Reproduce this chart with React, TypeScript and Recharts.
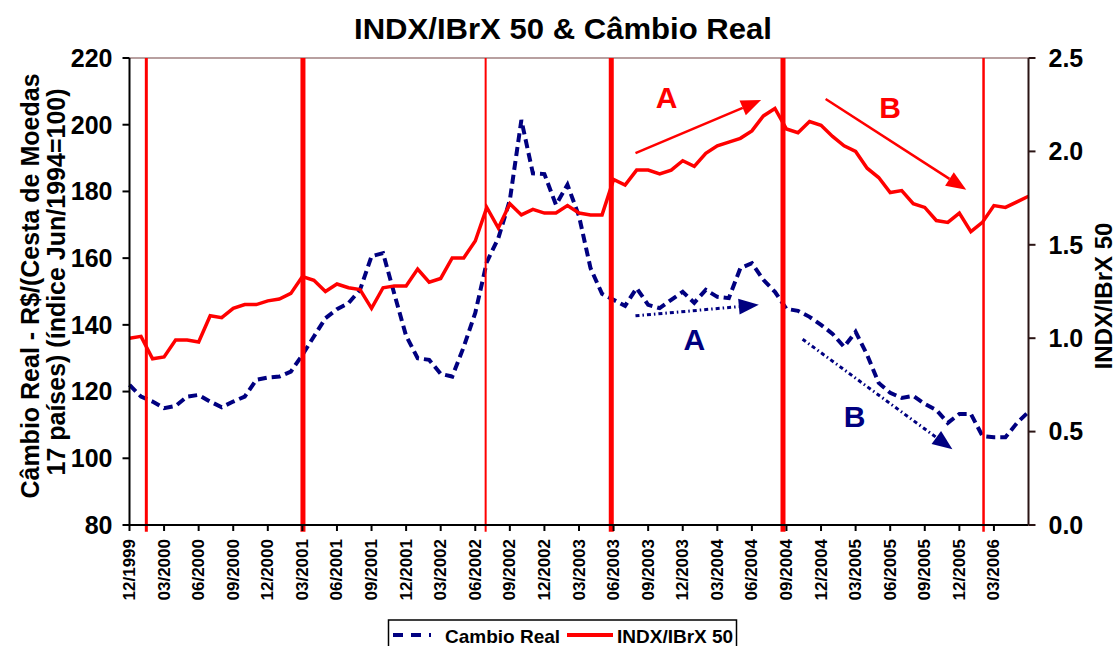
import { LineChart, Line, XAxis, YAxis, ReferenceLine, ReferenceDot } from "recharts";

// months since 12/1999, one label every quarter
const tickLabels = [
  "12/1999", "03/2000", "06/2000", "09/2000", "12/2000", "03/2001", "06/2001",
  "09/2001", "12/2001", "03/2002", "06/2002", "09/2002", "12/2002", "03/2003",
  "06/2003", "09/2003", "12/2003", "03/2004", "06/2004", "09/2004", "12/2004",
  "03/2005", "06/2005", "09/2005", "12/2005", "03/2006",
];

// Câmbio Real (left axis, índice Jun/1994=100), monthly from 12/1999
const cambioReal = [
  122.0, 118.5, 117.0, 115.0, 115.7, 118.5, 119.0, 117.0, 115.3, 117.0,
  118.5, 123.5, 124.2, 124.5, 126.0, 131.0, 136.5, 142.0, 144.7, 146.5,
  150.5, 160.6, 161.5, 149.0, 136.7, 130.0, 129.5, 125.3, 124.5, 133.4,
  143.6, 158.8, 166.0, 177.4, 201.4, 185.4, 185.2, 176.0, 182.0, 172.6,
  157.0, 149.3, 147.5, 145.7, 151.0, 146.0, 145.0, 147.5, 149.9, 146.6,
  150.5, 148.4, 148.0, 157.0, 158.5, 153.5, 149.9, 144.8, 144.2, 142.4,
  140.0, 137.3, 133.4, 137.9, 131.0, 122.6, 119.6, 118.1, 118.7, 116.3,
  114.5, 110.6, 113.3, 113.3, 106.7, 106.3, 106.3, 110.6, 113.9,
];

// INDX/IBrX 50 (right axis)
const indxIbrx50 = [
  1.0, 1.01, 0.89, 0.9, 0.99, 0.99, 0.98, 1.12, 1.11, 1.16,
  1.18, 1.18, 1.2, 1.21, 1.24, 1.33, 1.31, 1.25, 1.29, 1.27,
  1.26, 1.16, 1.27, 1.28, 1.28, 1.37, 1.3, 1.32, 1.43, 1.43,
  1.52, 1.7, 1.59, 1.72, 1.66, 1.69, 1.67, 1.67, 1.71, 1.67,
  1.66, 1.66, 1.85, 1.82, 1.9, 1.9, 1.88, 1.9, 1.95, 1.92,
  1.99, 2.03, 2.05, 2.07, 2.11, 2.19, 2.23, 2.12, 2.1, 2.16,
  2.14, 2.08, 2.03, 2.0, 1.91, 1.86, 1.78, 1.79, 1.72, 1.7,
  1.63, 1.62, 1.67, 1.57, 1.62, 1.71, 1.7, 1.73, 1.76,
];

// vertical event markers (months since 12/1999)
const eventMonths = [1.46, 15.05, 30.9, 41.8, 56.7, 74.1];
const eventWidths = [3, 5, 2, 5, 5, 2.5];

// trend arrows, in (month, left-axis value)
const redArrowA = [{ x: 43.9, y: 191.5 }, { x: 54.8, y: 207.4 }];
const redArrowB = [{ x: 60.4, y: 207.7 }, { x: 72.6, y: 180.5 }];
const blueArrowA = [{ x: 43.9, y: 142.7 }, { x: 54.6, y: 146.0 }];
const blueArrowB = [{ x: 58.4, y: 135.7 }, { x: 71.4, y: 102.7 }];
const redLabels = [{ text: "A", x: 46.6, y: 208.3 }, { text: "B", x: 66.0, y: 205.3 }];
const blueLabels = [{ text: "A", x: 49.0, y: 135.5 }, { text: "B", x: 62.9, y: 112.4 }];

const data = cambioReal.map((v, i) => ({ m: i, cambio: v, indx: indxIbrx50[i] }));

const FONT = "'Liberation Sans', Arial, sans-serif";
const RED = "#ff0000";
const NAVY = "#000080";

const arrowShape = (color: string, width: number, dash?: string) => (p: any) => {
  const { x1, y1, x2, y2 } = p;
  const a = Math.atan2(y2 - y1, x2 - x1);
  const len = 20;
  const half = 8;
  const bx = x2 - len * Math.cos(a);
  const by = y2 - len * Math.sin(a);
  const nx = -Math.sin(a) * half;
  const ny = Math.cos(a) * half;
  return (
    <g>
      <line x1={x1} y1={y1} x2={bx} y2={by} stroke={color} strokeWidth={width} strokeDasharray={dash} />
      <polygon points={`${x2},${y2} ${bx + nx},${by + ny} ${bx - nx},${by - ny}`} fill={color} />
    </g>
  );
};

const letterShape = (text: string, color: string) => (p: any) => (
  <text x={p.cx} y={p.cy} textAnchor="middle" dominantBaseline="central"
    fontFamily={FONT} fontWeight="bold" fontSize={30} fill={color}>{text}</text>
);

const XTick = (props: any) => {
  const { x, payload } = props;
  const y = 539;
  return (
    <text x={x} y={y} transform={`rotate(-90 ${x} ${y})`} textAnchor="end" dominantBaseline="central"
      fontFamily={FONT} fontWeight="bold" fontSize={17} fill="#000">
      {tickLabels[Math.round(payload.value / 3)]}
    </text>
  );
};

export default function App() {
  return (
    <div style={{ position: "absolute", left: 0, top: 0, width: 1117, height: 646, background: "#fff", overflow: "hidden" }}>
      <LineChart width={1117} height={646} data={data} margin={{ top: 58, right: 28.5, bottom: 0, left: 69.5 }}>
        <XAxis dataKey="m" type="number" domain={[0, 78]} ticks={tickLabels.map((_, i) => i * 3)}
          height={121} tick={<XTick />} tickSize={6} stroke="#000" strokeWidth={2} interval={0} />
        <YAxis yAxisId="left" domain={[80, 220]} ticks={[80, 100, 120, 140, 160, 180, 200, 220]}
          width={60} tickSize={7} tickMargin={10} stroke="#000" strokeWidth={2}
          tick={{ fontFamily: FONT, fontWeight: "bold", fontSize: 25, fill: "#000" }} />
        <YAxis yAxisId="right" orientation="right" domain={[0, 2.5]} ticks={[0, 0.5, 1, 1.5, 2, 2.5]}
          width={60} tickSize={7} tickMargin={13} stroke="#2a1414" strokeWidth={2}
          tickFormatter={(v: number) => v.toFixed(1)}
          tick={{ fontFamily: FONT, fontWeight: "bold", fontSize: 25, fill: "#000" }} />
        <ReferenceLine yAxisId="left" y={220} stroke="#a08080" strokeWidth={1.5} />
        <Line yAxisId="left" dataKey="cambio" stroke={NAVY} strokeWidth={4} strokeDasharray="9 5"
          dot={false} isAnimationActive={false} />
        <Line yAxisId="right" dataKey="indx" stroke={RED} strokeWidth={3.5}
          dot={false} isAnimationActive={false} />
        {eventMonths.map((m, i) => (
          <ReferenceLine key={`ev-${i}`} yAxisId="left" ifOverflow="visible"
            segment={[{ x: m, y: 220 }, { x: m, y: 78 }]} stroke={RED} strokeWidth={eventWidths[i]} />
        ))}
        <ReferenceLine yAxisId="left" segment={redArrowA} shape={arrowShape(RED, 2.5)} />
        <ReferenceLine yAxisId="left" segment={redArrowB} shape={arrowShape(RED, 2.5)} />
        <ReferenceLine yAxisId="left" segment={blueArrowA} shape={arrowShape(NAVY, 3, "4 3 1.5 3")} />
        <ReferenceLine yAxisId="left" segment={blueArrowB} shape={arrowShape(NAVY, 3, "4 3 1.5 3")} />
        {redLabels.map((l) => (
          <ReferenceDot key={`r-${l.text}`} yAxisId="left" x={l.x} y={l.y} r={0} shape={letterShape(l.text, RED)} />
        ))}
        {blueLabels.map((l) => (
          <ReferenceDot key={`b-${l.text}`} yAxisId="left" x={l.x} y={l.y} r={0} shape={letterShape(l.text, NAVY)} />
        ))}
      </LineChart>
      <svg width={1117} height={646} style={{ position: "absolute", left: 0, top: 0, pointerEvents: "none" }}
        fontFamily={FONT} fontWeight="bold">
        <text x={563} y={28} textAnchor="middle" dominantBaseline="central" fontSize={30}
          textLength={418} lengthAdjust="spacingAndGlyphs">
          INDX/IBrX 50 &amp; Câmbio Real
        </text>
        <text transform="translate(30,286) rotate(-90)" textAnchor="middle" dominantBaseline="central" fontSize={25}>
          Câmbio Real - R$/(Cesta de Moedas
        </text>
        <text transform="translate(56,282) rotate(-90)" textAnchor="middle" dominantBaseline="central" fontSize={25}>
          17 países) (índice Jun/1994=100)
        </text>
        <text transform="translate(1103,296) rotate(-90)" textAnchor="middle" dominantBaseline="central" fontSize={24}>
          INDX/IBrX 50
        </text>
        <rect x={388.5} y={620} width={348} height={40} fill="#fff" stroke="#000" strokeWidth={1.5} />
        <line x1={393} y1={635} x2={431} y2={635} stroke={NAVY} strokeWidth={4} strokeDasharray="10 8" />
        <text x={445} y={636} dominantBaseline="central" fontSize={19}>Cambio Real</text>
        <line x1={567} y1={635} x2={613} y2={635} stroke={RED} strokeWidth={4} />
        <text x={617} y={636} dominantBaseline="central" fontSize={19}>INDX/IBrX 50</text>
      </svg>
    </div>
  );
}
